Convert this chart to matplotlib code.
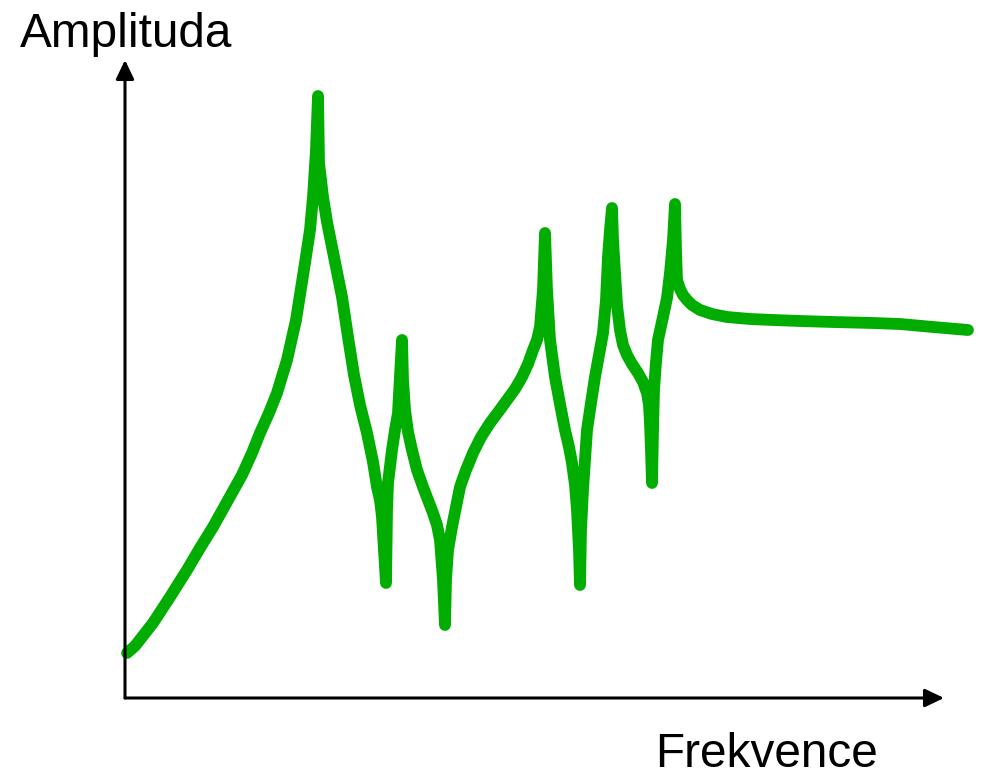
import matplotlib.pyplot as plt

# frequency response sketch, traced in picture units (x right, y down)
freq = [127, 135, 153, 170, 187, 200, 213, 228, 242, 252, 260, 269, 277, 287,
        296, 305, 310, 313, 316, 318,
        319, 321, 323, 327, 332, 337, 342, 348, 354, 360, 367, 373, 377, 380,
        382, 384, 386,
        387, 388, 392, 395, 398, 402,
        403, 405, 408, 412, 417, 423, 428, 433, 437, 440, 443, 445,
        446, 448, 452, 460, 466, 473, 481, 490, 499, 507, 515, 522, 528,
        533, 537, 540, 543, 545,
        547, 550, 555, 560, 565, 569, 572, 575, 577, 579, 580,
        581, 583, 587, 591, 595, 599, 603, 606, 608, 610, 612,
        613, 615, 617, 620, 623, 627, 632, 638, 643, 647, 649, 650, 651, 652,
        653, 654, 656, 658, 663, 667, 670, 673, 675,
        676, 677, 680, 683, 687, 692, 700, 712, 727, 750, 773, 800, 833,
        873, 900, 933, 968]
amp = [653, 646, 623, 597, 570, 548, 527, 500, 475, 453, 433, 413, 393, 360,
       320, 263, 230, 197, 150, 96,
       163, 180, 197, 222, 247, 272, 297, 337, 375, 405, 433, 462, 487, 500,
       517, 550, 583,
       510, 483, 450, 430, 413, 340,
       380, 410, 432, 450, 470, 487, 500, 513, 525, 540, 580, 625,
       580, 550, 527, 487, 470, 453, 437, 423, 411, 400, 389, 377, 364,
       350, 340, 327, 290, 233,
       290, 340, 377, 404, 430, 447, 463, 485, 510, 550, 585,
       530, 490, 430, 403, 377, 355, 333, 300, 257, 230, 208,
       240, 273, 305, 330, 345, 355, 364, 373, 382, 393, 405, 423, 450, 483,
       430, 390, 362, 340, 317, 298, 273, 240, 204,
       250, 280, 289, 295, 300, 305, 310, 314, 317, 319, 320, 321, 322,
       323, 324, 327, 330]

fig = plt.figure(figsize=(9.82, 7.76), dpi=100)
ax = fig.add_axes([0, 0, 1, 1])
ax.set_xlim(0, 982)
ax.set_ylim(776, 0)
ax.axis('off')

# axes with arrows
arr = dict(arrowstyle='-|>,head_length=1.15,head_width=0.55', color='black',
           lw=2.2, shrinkA=0, shrinkB=0)
ax.annotate('', xy=(125, 60), xytext=(125, 698), arrowprops=arr)
ax.annotate('', xy=(944, 698), xytext=(125, 698), arrowprops=arr)

ax.plot(freq, amp, color='#00AD00', lw=8.5, solid_capstyle='round',
        solid_joinstyle='round')

ax.text(20, 47, 'Amplituda', fontsize=34.4, family='Liberation Sans',
        ha='left', va='baseline')
ax.text(655, 767, 'Frekvence', fontsize=34.4, family='Liberation Sans',
        ha='left', va='baseline')

plt.savefig('out.png', dpi=100)
